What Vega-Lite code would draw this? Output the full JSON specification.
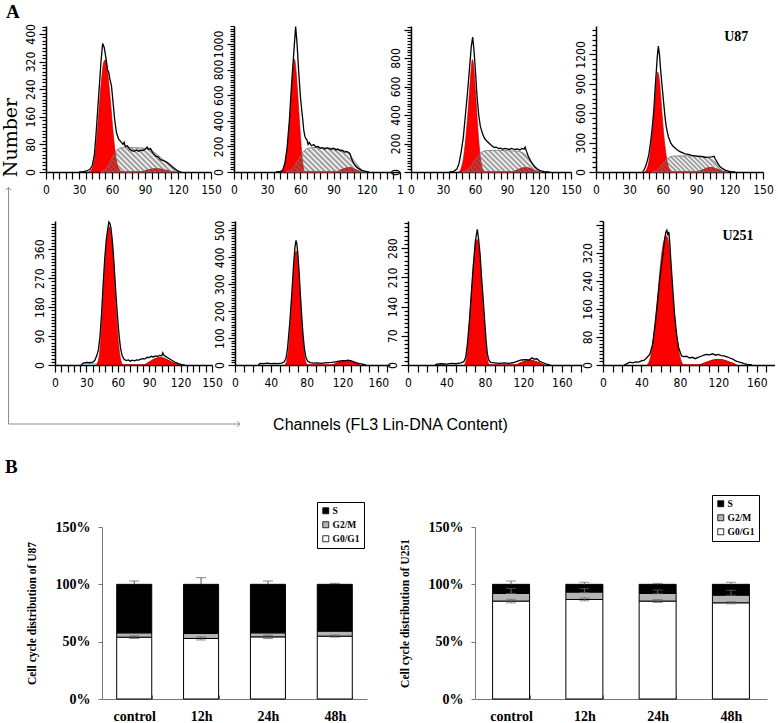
{
"$schema": "https://vega.github.io/schema/vega-lite/v6.json",
"padding": {"left": 1, "top": 2, "right": 0, "bottom": 0},
"background": "white",
"title": {"text": "A", "anchor": "start", "font": "Liberation Serif", "fontSize": 19, "fontWeight": "bold", "color": "black", "offset": 2, "dx": 5},
"datasets": {
"hist": [
{"p":"a1","s":"h","x":30,"y":0},{"p":"a1","s":"h","x":34,"y":1},{"p":"a1","s":"h","x":37,"y":3},{"p":"a1","s":"h","x":40,"y":8},{"p":"a1","s":"h","x":42,"y":18},{"p":"a1","s":"h","x":44,"y":50},{"p":"a1","s":"h","x":45.5,"y":110},{"p":"a1","s":"h","x":47,"y":180},{"p":"a1","s":"h","x":48.5,"y":250},{"p":"a1","s":"h","x":50,"y":320},{"p":"a1","s":"h","x":51.5,"y":372},{"p":"a1","s":"h","x":53,"y":360},{"p":"a1","s":"h","x":54.5,"y":330},{"p":"a1","s":"h","x":56,"y":295},{"p":"a1","s":"h","x":57,"y":290},{"p":"a1","s":"h","x":58,"y":270},{"p":"a1","s":"h","x":59.5,"y":250},{"p":"a1","s":"h","x":61,"y":200},{"p":"a1","s":"h","x":62.5,"y":150},{"p":"a1","s":"h","x":64,"y":115},{"p":"a1","s":"h","x":66,"y":95},{"p":"a1","s":"h","x":68,"y":88},{"p":"a1","s":"h","x":70,"y":80},{"p":"a1","s":"h","x":71,"y":86},{"p":"a1","s":"h","x":72,"y":74},{"p":"a1","s":"h","x":74,"y":76},{"p":"a1","s":"h","x":76,"y":66},{"p":"a1","s":"h","x":78,"y":62},{"p":"a1","s":"h","x":80,"y":60},{"p":"a1","s":"h","x":82,"y":64},{"p":"a1","s":"h","x":84,"y":60},{"p":"a1","s":"h","x":86,"y":63},{"p":"a1","s":"h","x":88,"y":62},{"p":"a1","s":"h","x":90,"y":66},{"p":"a1","s":"h","x":92,"y":72},{"p":"a1","s":"h","x":93,"y":66},{"p":"a1","s":"h","x":95,"y":68},{"p":"a1","s":"h","x":97,"y":56},{"p":"a1","s":"h","x":100,"y":46},{"p":"a1","s":"h","x":102,"y":44},{"p":"a1","s":"h","x":104,"y":36},{"p":"a1","s":"h","x":107,"y":33},{"p":"a1","s":"h","x":110,"y":28},{"p":"a1","s":"h","x":113,"y":20},{"p":"a1","s":"h","x":116,"y":12},{"p":"a1","s":"h","x":119,"y":5},{"p":"a1","s":"h","x":121,"y":1},{"p":"a1","s":"h","x":123,"y":0},
{"p":"a1","s":"g1","x":39,"y":0},{"p":"a1","s":"g1","x":41,"y":5},{"p":"a1","s":"g1","x":43,"y":20},{"p":"a1","s":"g1","x":45,"y":60},{"p":"a1","s":"g1","x":47,"y":130},{"p":"a1","s":"g1","x":49,"y":215},{"p":"a1","s":"g1","x":51,"y":285},{"p":"a1","s":"g1","x":52.5,"y":318},{"p":"a1","s":"g1","x":54,"y":325},{"p":"a1","s":"g1","x":55.5,"y":305},{"p":"a1","s":"g1","x":57,"y":260},{"p":"a1","s":"g1","x":59,"y":190},{"p":"a1","s":"g1","x":61,"y":115},{"p":"a1","s":"g1","x":63,"y":55},{"p":"a1","s":"g1","x":65,"y":20},{"p":"a1","s":"g1","x":67,"y":6},{"p":"a1","s":"g1","x":69,"y":0},
{"p":"a1","s":"sp","x":50,"y":0},{"p":"a1","s":"sp","x":53,"y":5},{"p":"a1","s":"sp","x":56,"y":15},{"p":"a1","s":"sp","x":59,"y":32},{"p":"a1","s":"sp","x":62,"y":52},{"p":"a1","s":"sp","x":65,"y":65},{"p":"a1","s":"sp","x":68,"y":70},{"p":"a1","s":"sp","x":75,"y":71},{"p":"a1","s":"sp","x":85,"y":70},{"p":"a1","s":"sp","x":92,"y":67},{"p":"a1","s":"sp","x":97,"y":60},{"p":"a1","s":"sp","x":102,"y":48},{"p":"a1","s":"sp","x":107,"y":34},{"p":"a1","s":"sp","x":112,"y":20},{"p":"a1","s":"sp","x":116,"y":9},{"p":"a1","s":"sp","x":120,"y":2},{"p":"a1","s":"sp","x":122,"y":0},
{"p":"a1","s":"g2","x":86,"y":0},{"p":"a1","s":"g2","x":90,"y":3},{"p":"a1","s":"g2","x":94,"y":7},{"p":"a1","s":"g2","x":98,"y":9},{"p":"a1","s":"g2","x":102,"y":9},{"p":"a1","s":"g2","x":106,"y":7},{"p":"a1","s":"g2","x":110,"y":4},{"p":"a1","s":"g2","x":114,"y":1},{"p":"a1","s":"g2","x":116,"y":0},

{"p":"a2","s":"h","x":38,"y":0},{"p":"a2","s":"h","x":42,"y":5},{"p":"a2","s":"h","x":44,"y":15},{"p":"a2","s":"h","x":46,"y":70},{"p":"a2","s":"h","x":48,"y":190},{"p":"a2","s":"h","x":50,"y":400},{"p":"a2","s":"h","x":52,"y":680},{"p":"a2","s":"h","x":54,"y":930},{"p":"a2","s":"h","x":55.7,"y":1135},{"p":"a2","s":"h","x":57,"y":1000},{"p":"a2","s":"h","x":58.5,"y":780},{"p":"a2","s":"h","x":60,"y":590},{"p":"a2","s":"h","x":61,"y":500},{"p":"a2","s":"h","x":62,"y":420},{"p":"a2","s":"h","x":63,"y":330},{"p":"a2","s":"h","x":64,"y":280},{"p":"a2","s":"h","x":65,"y":260},{"p":"a2","s":"h","x":66,"y":250},{"p":"a2","s":"h","x":67,"y":215},{"p":"a2","s":"h","x":68,"y":230},{"p":"a2","s":"h","x":70,"y":205},{"p":"a2","s":"h","x":72,"y":215},{"p":"a2","s":"h","x":74,"y":195},{"p":"a2","s":"h","x":76,"y":200},{"p":"a2","s":"h","x":78,"y":185},{"p":"a2","s":"h","x":80,"y":190},{"p":"a2","s":"h","x":82,"y":180},{"p":"a2","s":"h","x":84,"y":188},{"p":"a2","s":"h","x":86,"y":182},{"p":"a2","s":"h","x":88,"y":178},{"p":"a2","s":"h","x":90,"y":185},{"p":"a2","s":"h","x":92,"y":172},{"p":"a2","s":"h","x":94,"y":178},{"p":"a2","s":"h","x":96,"y":165},{"p":"a2","s":"h","x":98,"y":168},{"p":"a2","s":"h","x":100,"y":155},{"p":"a2","s":"h","x":102,"y":160},{"p":"a2","s":"h","x":104,"y":150},{"p":"a2","s":"h","x":105,"y":140},{"p":"a2","s":"h","x":106,"y":110},{"p":"a2","s":"h","x":108,"y":70},{"p":"a2","s":"h","x":110,"y":45},{"p":"a2","s":"h","x":112,"y":30},{"p":"a2","s":"h","x":115,"y":15},{"p":"a2","s":"h","x":118,"y":6},{"p":"a2","s":"h","x":122,"y":0},
{"p":"a2","s":"g1","x":43,"y":0},{"p":"a2","s":"g1","x":45,"y":30},{"p":"a2","s":"g1","x":47,"y":100},{"p":"a2","s":"g1","x":49,"y":260},{"p":"a2","s":"g1","x":51,"y":480},{"p":"a2","s":"g1","x":53,"y":760},{"p":"a2","s":"g1","x":54.6,"y":880},{"p":"a2","s":"g1","x":56,"y":800},{"p":"a2","s":"g1","x":57.5,"y":620},{"p":"a2","s":"g1","x":59,"y":420},{"p":"a2","s":"g1","x":60.5,"y":230},{"p":"a2","s":"g1","x":62,"y":80},{"p":"a2","s":"g1","x":63.5,"y":10},{"p":"a2","s":"g1","x":64.5,"y":0},
{"p":"a2","s":"sp","x":47,"y":0},{"p":"a2","s":"sp","x":50,"y":10},{"p":"a2","s":"sp","x":53,"y":30},{"p":"a2","s":"sp","x":56,"y":65},{"p":"a2","s":"sp","x":59,"y":110},{"p":"a2","s":"sp","x":62,"y":150},{"p":"a2","s":"sp","x":65,"y":178},{"p":"a2","s":"sp","x":68,"y":188},{"p":"a2","s":"sp","x":75,"y":192},{"p":"a2","s":"sp","x":85,"y":188},{"p":"a2","s":"sp","x":95,"y":178},{"p":"a2","s":"sp","x":100,"y":165},{"p":"a2","s":"sp","x":104,"y":140},{"p":"a2","s":"sp","x":108,"y":95},{"p":"a2","s":"sp","x":112,"y":50},{"p":"a2","s":"sp","x":115,"y":22},{"p":"a2","s":"sp","x":118,"y":5},{"p":"a2","s":"sp","x":120,"y":0},
{"p":"a2","s":"g2","x":92,"y":0},{"p":"a2","s":"g2","x":95,"y":8},{"p":"a2","s":"g2","x":98,"y":20},{"p":"a2","s":"g2","x":101,"y":30},{"p":"a2","s":"g2","x":104,"y":34},{"p":"a2","s":"g2","x":107,"y":30},{"p":"a2","s":"g2","x":110,"y":18},{"p":"a2","s":"g2","x":113,"y":6},{"p":"a2","s":"g2","x":115,"y":0},

{"p":"a3","s":"h","x":36,"y":0},{"p":"a3","s":"h","x":40,"y":5},{"p":"a3","s":"h","x":43,"y":20},{"p":"a3","s":"h","x":45,"y":60},{"p":"a3","s":"h","x":47,"y":140},{"p":"a3","s":"h","x":49,"y":240},{"p":"a3","s":"h","x":51,"y":400},{"p":"a3","s":"h","x":53,"y":560},{"p":"a3","s":"h","x":55,"y":740},{"p":"a3","s":"h","x":56.5,"y":880},{"p":"a3","s":"h","x":57.8,"y":947},{"p":"a3","s":"h","x":59,"y":860},{"p":"a3","s":"h","x":60.5,"y":700},{"p":"a3","s":"h","x":62,"y":520},{"p":"a3","s":"h","x":63.5,"y":400},{"p":"a3","s":"h","x":65,"y":320},{"p":"a3","s":"h","x":67,"y":270},{"p":"a3","s":"h","x":69,"y":235},{"p":"a3","s":"h","x":72,"y":210},{"p":"a3","s":"h","x":75,"y":190},{"p":"a3","s":"h","x":78,"y":172},{"p":"a3","s":"h","x":80,"y":175},{"p":"a3","s":"h","x":82,"y":165},{"p":"a3","s":"h","x":84,"y":168},{"p":"a3","s":"h","x":86,"y":160},{"p":"a3","s":"h","x":88,"y":165},{"p":"a3","s":"h","x":90,"y":162},{"p":"a3","s":"h","x":92,"y":158},{"p":"a3","s":"h","x":94,"y":165},{"p":"a3","s":"h","x":96,"y":160},{"p":"a3","s":"h","x":98,"y":158},{"p":"a3","s":"h","x":100,"y":162},{"p":"a3","s":"h","x":102,"y":155},{"p":"a3","s":"h","x":104,"y":165},{"p":"a3","s":"h","x":106,"y":160},{"p":"a3","s":"h","x":107,"y":175},{"p":"a3","s":"h","x":108,"y":150},{"p":"a3","s":"h","x":110,"y":110},{"p":"a3","s":"h","x":112,"y":80},{"p":"a3","s":"h","x":114,"y":55},{"p":"a3","s":"h","x":116,"y":35},{"p":"a3","s":"h","x":118,"y":22},{"p":"a3","s":"h","x":121,"y":10},{"p":"a3","s":"h","x":125,"y":3},{"p":"a3","s":"h","x":130,"y":0},
{"p":"a3","s":"g1","x":45,"y":0},{"p":"a3","s":"g1","x":47,"y":25},{"p":"a3","s":"g1","x":49,"y":90},{"p":"a3","s":"g1","x":51,"y":210},{"p":"a3","s":"g1","x":53,"y":380},{"p":"a3","s":"g1","x":55,"y":580},{"p":"a3","s":"g1","x":56.5,"y":730},{"p":"a3","s":"g1","x":57.5,"y":790},{"p":"a3","s":"g1","x":58.5,"y":760},{"p":"a3","s":"g1","x":60,"y":620},{"p":"a3","s":"g1","x":61.5,"y":440},{"p":"a3","s":"g1","x":63,"y":270},{"p":"a3","s":"g1","x":64.5,"y":140},{"p":"a3","s":"g1","x":66,"y":55},{"p":"a3","s":"g1","x":67.5,"y":15},{"p":"a3","s":"g1","x":69,"y":0},
{"p":"a3","s":"sp","x":48,"y":0},{"p":"a3","s":"sp","x":52,"y":10},{"p":"a3","s":"sp","x":55,"y":30},{"p":"a3","s":"sp","x":58,"y":60},{"p":"a3","s":"sp","x":61,"y":95},{"p":"a3","s":"sp","x":64,"y":125},{"p":"a3","s":"sp","x":67,"y":142},{"p":"a3","s":"sp","x":70,"y":150},{"p":"a3","s":"sp","x":80,"y":152},{"p":"a3","s":"sp","x":90,"y":150},{"p":"a3","s":"sp","x":100,"y":145},{"p":"a3","s":"sp","x":105,"y":135},{"p":"a3","s":"sp","x":109,"y":110},{"p":"a3","s":"sp","x":113,"y":70},{"p":"a3","s":"sp","x":117,"y":35},{"p":"a3","s":"sp","x":120,"y":12},{"p":"a3","s":"sp","x":123,"y":0},
{"p":"a3","s":"g2","x":95,"y":0},{"p":"a3","s":"g2","x":98,"y":8},{"p":"a3","s":"g2","x":101,"y":18},{"p":"a3","s":"g2","x":104,"y":26},{"p":"a3","s":"g2","x":107,"y":30},{"p":"a3","s":"g2","x":110,"y":28},{"p":"a3","s":"g2","x":113,"y":20},{"p":"a3","s":"g2","x":116,"y":10},{"p":"a3","s":"g2","x":119,"y":3},{"p":"a3","s":"g2","x":121,"y":0},

{"p":"a4","s":"h","x":42,"y":0},{"p":"a4","s":"h","x":44,"y":40},{"p":"a4","s":"h","x":46,"y":110},{"p":"a4","s":"h","x":47.5,"y":180},{"p":"a4","s":"h","x":49,"y":300},{"p":"a4","s":"h","x":50.5,"y":450},{"p":"a4","s":"h","x":52,"y":640},{"p":"a4","s":"h","x":53,"y":830},{"p":"a4","s":"h","x":54,"y":1000},{"p":"a4","s":"h","x":55,"y":1170},{"p":"a4","s":"h","x":56,"y":1285},{"p":"a4","s":"h","x":57,"y":1200},{"p":"a4","s":"h","x":58,"y":1050},{"p":"a4","s":"h","x":59,"y":920},{"p":"a4","s":"h","x":60,"y":800},{"p":"a4","s":"h","x":61,"y":680},{"p":"a4","s":"h","x":62,"y":560},{"p":"a4","s":"h","x":63,"y":470},{"p":"a4","s":"h","x":64,"y":410},{"p":"a4","s":"h","x":65,"y":360},{"p":"a4","s":"h","x":67,"y":300},{"p":"a4","s":"h","x":69,"y":265},{"p":"a4","s":"h","x":72,"y":235},{"p":"a4","s":"h","x":75,"y":210},{"p":"a4","s":"h","x":78,"y":195},{"p":"a4","s":"h","x":80,"y":185},{"p":"a4","s":"h","x":83,"y":180},{"p":"a4","s":"h","x":86,"y":170},{"p":"a4","s":"h","x":89,"y":165},{"p":"a4","s":"h","x":92,"y":160},{"p":"a4","s":"h","x":95,"y":158},{"p":"a4","s":"h","x":98,"y":150},{"p":"a4","s":"h","x":101,"y":152},{"p":"a4","s":"h","x":104,"y":155},{"p":"a4","s":"h","x":106,"y":160},{"p":"a4","s":"h","x":107,"y":135},{"p":"a4","s":"h","x":109,"y":95},{"p":"a4","s":"h","x":111,"y":60},{"p":"a4","s":"h","x":113,"y":40},{"p":"a4","s":"h","x":116,"y":20},{"p":"a4","s":"h","x":119,"y":8},{"p":"a4","s":"h","x":122,"y":2},{"p":"a4","s":"h","x":125,"y":0},
{"p":"a4","s":"g1","x":44,"y":0},{"p":"a4","s":"g1","x":46,"y":40},{"p":"a4","s":"g1","x":48,"y":140},{"p":"a4","s":"g1","x":50,"y":330},{"p":"a4","s":"g1","x":52,"y":580},{"p":"a4","s":"g1","x":53.5,"y":820},{"p":"a4","s":"g1","x":55.4,"y":1020},{"p":"a4","s":"g1","x":57,"y":930},{"p":"a4","s":"g1","x":58.5,"y":720},{"p":"a4","s":"g1","x":60,"y":500},{"p":"a4","s":"g1","x":61.5,"y":310},{"p":"a4","s":"g1","x":63,"y":170},{"p":"a4","s":"g1","x":64.5,"y":80},{"p":"a4","s":"g1","x":66,"y":30},{"p":"a4","s":"g1","x":68,"y":5},{"p":"a4","s":"g1","x":69,"y":0},
{"p":"a4","s":"sp","x":50,"y":0},{"p":"a4","s":"sp","x":54,"y":15},{"p":"a4","s":"sp","x":57,"y":45},{"p":"a4","s":"sp","x":60,"y":85},{"p":"a4","s":"sp","x":63,"y":125},{"p":"a4","s":"sp","x":66,"y":152},{"p":"a4","s":"sp","x":69,"y":162},{"p":"a4","s":"sp","x":80,"y":165},{"p":"a4","s":"sp","x":90,"y":162},{"p":"a4","s":"sp","x":98,"y":155},{"p":"a4","s":"sp","x":102,"y":140},{"p":"a4","s":"sp","x":106,"y":110},{"p":"a4","s":"sp","x":110,"y":65},{"p":"a4","s":"sp","x":113,"y":35},{"p":"a4","s":"sp","x":116,"y":12},{"p":"a4","s":"sp","x":118,"y":0},
{"p":"a4","s":"g2","x":90,"y":0},{"p":"a4","s":"g2","x":93,"y":8},{"p":"a4","s":"g2","x":96,"y":22},{"p":"a4","s":"g2","x":99,"y":36},{"p":"a4","s":"g2","x":102,"y":45},{"p":"a4","s":"g2","x":105,"y":42},{"p":"a4","s":"g2","x":108,"y":32},{"p":"a4","s":"g2","x":111,"y":18},{"p":"a4","s":"g2","x":114,"y":6},{"p":"a4","s":"g2","x":117,"y":0},
{"p":"a4","s":"txt","x":126,"y":1378,"lab":"U87"},

{"p":"b1","s":"h","x":25,"y":0},{"p":"b1","s":"h","x":27,"y":6},{"p":"b1","s":"h","x":30,"y":8},{"p":"b1","s":"h","x":33,"y":7},{"p":"b1","s":"h","x":36,"y":9},{"p":"b1","s":"h","x":38,"y":14},{"p":"b1","s":"h","x":40,"y":30},{"p":"b1","s":"h","x":41.5,"y":48},{"p":"b1","s":"h","x":43,"y":90},{"p":"b1","s":"h","x":44.5,"y":160},{"p":"b1","s":"h","x":46,"y":250},{"p":"b1","s":"h","x":47.5,"y":330},{"p":"b1","s":"h","x":49,"y":390},{"p":"b1","s":"h","x":50.5,"y":425},{"p":"b1","s":"h","x":51.5,"y":445},{"p":"b1","s":"h","x":52.5,"y":440},{"p":"b1","s":"h","x":53.5,"y":425},{"p":"b1","s":"h","x":55,"y":380},{"p":"b1","s":"h","x":56.5,"y":310},{"p":"b1","s":"h","x":58,"y":230},{"p":"b1","s":"h","x":59.5,"y":160},{"p":"b1","s":"h","x":61,"y":100},{"p":"b1","s":"h","x":62.5,"y":55},{"p":"b1","s":"h","x":64,"y":30},{"p":"b1","s":"h","x":66,"y":18},{"p":"b1","s":"h","x":68,"y":14},{"p":"b1","s":"h","x":70,"y":16},{"p":"b1","s":"h","x":72,"y":12},{"p":"b1","s":"h","x":74,"y":15},{"p":"b1","s":"h","x":76,"y":13},{"p":"b1","s":"h","x":78,"y":16},{"p":"b1","s":"h","x":80,"y":15},{"p":"b1","s":"h","x":82,"y":18},{"p":"b1","s":"h","x":84,"y":20},{"p":"b1","s":"h","x":86,"y":19},{"p":"b1","s":"h","x":88,"y":24},{"p":"b1","s":"h","x":90,"y":23},{"p":"b1","s":"h","x":92,"y":27},{"p":"b1","s":"h","x":94,"y":25},{"p":"b1","s":"h","x":96,"y":28},{"p":"b1","s":"h","x":98,"y":27},{"p":"b1","s":"h","x":100,"y":30},{"p":"b1","s":"h","x":102,"y":29},{"p":"b1","s":"h","x":103,"y":38},{"p":"b1","s":"h","x":104,"y":30},{"p":"b1","s":"h","x":106,"y":26},{"p":"b1","s":"h","x":108,"y":22},{"p":"b1","s":"h","x":110,"y":18},{"p":"b1","s":"h","x":112,"y":14},{"p":"b1","s":"h","x":115,"y":8},{"p":"b1","s":"h","x":118,"y":4},{"p":"b1","s":"h","x":121,"y":1},{"p":"b1","s":"h","x":124,"y":0},
{"p":"b1","s":"g1","x":39,"y":0},{"p":"b1","s":"g1","x":41,"y":10},{"p":"b1","s":"g1","x":43,"y":50},{"p":"b1","s":"g1","x":45,"y":150},{"p":"b1","s":"g1","x":47,"y":270},{"p":"b1","s":"g1","x":49,"y":370},{"p":"b1","s":"g1","x":50.5,"y":415},{"p":"b1","s":"g1","x":51.8,"y":430},{"p":"b1","s":"g1","x":53,"y":420},{"p":"b1","s":"g1","x":54.5,"y":380},{"p":"b1","s":"g1","x":56,"y":310},{"p":"b1","s":"g1","x":57.5,"y":220},{"p":"b1","s":"g1","x":59,"y":140},{"p":"b1","s":"g1","x":60.5,"y":75},{"p":"b1","s":"g1","x":62,"y":30},{"p":"b1","s":"g1","x":63.5,"y":8},{"p":"b1","s":"g1","x":65,"y":0},
{"p":"b1","s":"g2","x":85,"y":0},{"p":"b1","s":"g2","x":88,"y":5},{"p":"b1","s":"g2","x":91,"y":11},{"p":"b1","s":"g2","x":94,"y":17},{"p":"b1","s":"g2","x":97,"y":21},{"p":"b1","s":"g2","x":100,"y":23},{"p":"b1","s":"g2","x":103,"y":22},{"p":"b1","s":"g2","x":106,"y":18},{"p":"b1","s":"g2","x":109,"y":13},{"p":"b1","s":"g2","x":112,"y":8},{"p":"b1","s":"g2","x":115,"y":4},{"p":"b1","s":"g2","x":118,"y":1},{"p":"b1","s":"g2","x":120,"y":0},
{"p":"b1","s":"deb","x":25,"y":0},{"p":"b1","s":"deb","x":27,"y":5},{"p":"b1","s":"deb","x":30,"y":7},{"p":"b1","s":"deb","x":33,"y":7},{"p":"b1","s":"deb","x":36,"y":8},{"p":"b1","s":"deb","x":38,"y":6},{"p":"b1","s":"deb","x":40,"y":0},

{"p":"b2","s":"h","x":26,"y":0},{"p":"b2","s":"h","x":28,"y":6},{"p":"b2","s":"h","x":32,"y":5},{"p":"b2","s":"h","x":36,"y":7},{"p":"b2","s":"h","x":40,"y":5},{"p":"b2","s":"h","x":44,"y":6},{"p":"b2","s":"h","x":48,"y":5},{"p":"b2","s":"h","x":52,"y":7},{"p":"b2","s":"h","x":55,"y":12},{"p":"b2","s":"h","x":57,"y":25},{"p":"b2","s":"h","x":58.7,"y":64},{"p":"b2","s":"h","x":61,"y":151},{"p":"b2","s":"h","x":63.6,"y":275},{"p":"b2","s":"h","x":65.4,"y":374},{"p":"b2","s":"h","x":67,"y":440},{"p":"b2","s":"h","x":68.1,"y":463},{"p":"b2","s":"h","x":69,"y":450},{"p":"b2","s":"h","x":70,"y":420},{"p":"b2","s":"h","x":71.5,"y":350},{"p":"b2","s":"h","x":73,"y":260},{"p":"b2","s":"h","x":74.5,"y":180},{"p":"b2","s":"h","x":76,"y":110},{"p":"b2","s":"h","x":77.5,"y":60},{"p":"b2","s":"h","x":79,"y":30},{"p":"b2","s":"h","x":81,"y":15},{"p":"b2","s":"h","x":84,"y":9},{"p":"b2","s":"h","x":88,"y":7},{"p":"b2","s":"h","x":92,"y":8},{"p":"b2","s":"h","x":96,"y":6},{"p":"b2","s":"h","x":100,"y":8},{"p":"b2","s":"h","x":104,"y":9},{"p":"b2","s":"h","x":108,"y":10},{"p":"b2","s":"h","x":112,"y":12},{"p":"b2","s":"h","x":116,"y":14},{"p":"b2","s":"h","x":120,"y":16},{"p":"b2","s":"h","x":123,"y":15},{"p":"b2","s":"h","x":126,"y":18},{"p":"b2","s":"h","x":129,"y":16},{"p":"b2","s":"h","x":132,"y":13},{"p":"b2","s":"h","x":135,"y":9},{"p":"b2","s":"h","x":138,"y":6},{"p":"b2","s":"h","x":142,"y":3},{"p":"b2","s":"h","x":146,"y":0},
{"p":"b2","s":"g1","x":56,"y":0},{"p":"b2","s":"g1","x":58,"y":20},{"p":"b2","s":"g1","x":60,"y":70},{"p":"b2","s":"g1","x":62,"y":160},{"p":"b2","s":"g1","x":64,"y":270},{"p":"b2","s":"g1","x":66,"y":370},{"p":"b2","s":"g1","x":67.5,"y":420},{"p":"b2","s":"g1","x":68.5,"y":424},{"p":"b2","s":"g1","x":70,"y":390},{"p":"b2","s":"g1","x":71.5,"y":320},{"p":"b2","s":"g1","x":73,"y":230},{"p":"b2","s":"g1","x":74.5,"y":150},{"p":"b2","s":"g1","x":76,"y":85},{"p":"b2","s":"g1","x":77.5,"y":40},{"p":"b2","s":"g1","x":79,"y":12},{"p":"b2","s":"g1","x":81,"y":0},
{"p":"b2","s":"g2","x":108,"y":0},{"p":"b2","s":"g2","x":112,"y":5},{"p":"b2","s":"g2","x":116,"y":10},{"p":"b2","s":"g2","x":120,"y":14},{"p":"b2","s":"g2","x":124,"y":16},{"p":"b2","s":"g2","x":128,"y":15},{"p":"b2","s":"g2","x":132,"y":11},{"p":"b2","s":"g2","x":136,"y":5},{"p":"b2","s":"g2","x":139,"y":0},

{"p":"b3","s":"h","x":28,"y":0},{"p":"b3","s":"h","x":30,"y":2},{"p":"b3","s":"h","x":35,"y":3},{"p":"b3","s":"h","x":40,"y":2},{"p":"b3","s":"h","x":45,"y":4},{"p":"b3","s":"h","x":50,"y":3},{"p":"b3","s":"h","x":55,"y":5},{"p":"b3","s":"h","x":58,"y":8},{"p":"b3","s":"h","x":60,"y":18},{"p":"b3","s":"h","x":62,"y":55},{"p":"b3","s":"h","x":64,"y":110},{"p":"b3","s":"h","x":66,"y":175},{"p":"b3","s":"h","x":68,"y":240},{"p":"b3","s":"h","x":70,"y":295},{"p":"b3","s":"h","x":71,"y":310},{"p":"b3","s":"h","x":72.1,"y":325},{"p":"b3","s":"h","x":73.5,"y":300},{"p":"b3","s":"h","x":75,"y":265},{"p":"b3","s":"h","x":76.5,"y":210},{"p":"b3","s":"h","x":78,"y":165},{"p":"b3","s":"h","x":79.5,"y":115},{"p":"b3","s":"h","x":81,"y":65},{"p":"b3","s":"h","x":82.5,"y":28},{"p":"b3","s":"h","x":84,"y":12},{"p":"b3","s":"h","x":86,"y":6},{"p":"b3","s":"h","x":90,"y":5},{"p":"b3","s":"h","x":95,"y":4},{"p":"b3","s":"h","x":100,"y":5},{"p":"b3","s":"h","x":105,"y":4},{"p":"b3","s":"h","x":110,"y":6},{"p":"b3","s":"h","x":114,"y":9},{"p":"b3","s":"h","x":118,"y":12},{"p":"b3","s":"h","x":122,"y":13},{"p":"b3","s":"h","x":126,"y":12},{"p":"b3","s":"h","x":129,"y":17},{"p":"b3","s":"h","x":131,"y":14},{"p":"b3","s":"h","x":134,"y":15},{"p":"b3","s":"h","x":137,"y":9},{"p":"b3","s":"h","x":140,"y":6},{"p":"b3","s":"h","x":144,"y":2},{"p":"b3","s":"h","x":148,"y":0},
{"p":"b3","s":"g1","x":59,"y":0},{"p":"b3","s":"g1","x":61,"y":20},{"p":"b3","s":"g1","x":63,"y":70},{"p":"b3","s":"g1","x":65,"y":140},{"p":"b3","s":"g1","x":67,"y":210},{"p":"b3","s":"g1","x":69,"y":265},{"p":"b3","s":"g1","x":71,"y":298},{"p":"b3","s":"g1","x":72,"y":301},{"p":"b3","s":"g1","x":73.5,"y":285},{"p":"b3","s":"g1","x":75,"y":245},{"p":"b3","s":"g1","x":76.5,"y":190},{"p":"b3","s":"g1","x":78,"y":140},{"p":"b3","s":"g1","x":79.5,"y":90},{"p":"b3","s":"g1","x":81,"y":45},{"p":"b3","s":"g1","x":82.5,"y":15},{"p":"b3","s":"g1","x":84,"y":3},{"p":"b3","s":"g1","x":85,"y":0},
{"p":"b3","s":"g2","x":112,"y":0},{"p":"b3","s":"g2","x":116,"y":4},{"p":"b3","s":"g2","x":120,"y":8},{"p":"b3","s":"g2","x":124,"y":10},{"p":"b3","s":"g2","x":128,"y":11},{"p":"b3","s":"g2","x":132,"y":9},{"p":"b3","s":"g2","x":136,"y":6},{"p":"b3","s":"g2","x":140,"y":2},{"p":"b3","s":"g2","x":142,"y":0},

{"p":"b4","s":"h","x":22,"y":0},{"p":"b4","s":"h","x":25,"y":4},{"p":"b4","s":"h","x":28,"y":8},{"p":"b4","s":"h","x":31,"y":6},{"p":"b4","s":"h","x":34,"y":9},{"p":"b4","s":"h","x":37,"y":8},{"p":"b4","s":"h","x":40,"y":12},{"p":"b4","s":"h","x":43,"y":14},{"p":"b4","s":"h","x":46,"y":22},{"p":"b4","s":"h","x":48.8,"y":31},{"p":"b4","s":"h","x":51.6,"y":59},{"p":"b4","s":"h","x":54.4,"y":116},{"p":"b4","s":"h","x":56.8,"y":183},{"p":"b4","s":"h","x":59.2,"y":249},{"p":"b4","s":"h","x":62,"y":307},{"p":"b4","s":"h","x":64.4,"y":364},{"p":"b4","s":"h","x":65.5,"y":380},{"p":"b4","s":"h","x":66.5,"y":385},{"p":"b4","s":"h","x":67.5,"y":370},{"p":"b4","s":"h","x":68.5,"y":380},{"p":"b4","s":"h","x":69.5,"y":350},{"p":"b4","s":"h","x":70.4,"y":307},{"p":"b4","s":"h","x":72.5,"y":221},{"p":"b4","s":"h","x":74.5,"y":145},{"p":"b4","s":"h","x":76.6,"y":88},{"p":"b4","s":"h","x":78.7,"y":49},{"p":"b4","s":"h","x":81.8,"y":26},{"p":"b4","s":"h","x":84,"y":24},{"p":"b4","s":"h","x":87,"y":25},{"p":"b4","s":"h","x":90,"y":20},{"p":"b4","s":"h","x":93,"y":22},{"p":"b4","s":"h","x":96,"y":18},{"p":"b4","s":"h","x":99,"y":22},{"p":"b4","s":"h","x":102,"y":25},{"p":"b4","s":"h","x":105,"y":28},{"p":"b4","s":"h","x":108,"y":30},{"p":"b4","s":"h","x":111,"y":29},{"p":"b4","s":"h","x":114,"y":32},{"p":"b4","s":"h","x":117,"y":28},{"p":"b4","s":"h","x":120,"y":30},{"p":"b4","s":"h","x":123,"y":27},{"p":"b4","s":"h","x":126,"y":26},{"p":"b4","s":"h","x":129,"y":23},{"p":"b4","s":"h","x":132,"y":20},{"p":"b4","s":"h","x":135,"y":17},{"p":"b4","s":"h","x":138,"y":12},{"p":"b4","s":"h","x":141,"y":9},{"p":"b4","s":"h","x":144,"y":7},{"p":"b4","s":"h","x":147,"y":4},{"p":"b4","s":"h","x":150,"y":2},{"p":"b4","s":"h","x":155,"y":0},
{"p":"b4","s":"g1","x":46,"y":0},{"p":"b4","s":"g1","x":48,"y":10},{"p":"b4","s":"g1","x":50,"y":30},{"p":"b4","s":"g1","x":52,"y":70},{"p":"b4","s":"g1","x":54,"y":120},{"p":"b4","s":"g1","x":56,"y":170},{"p":"b4","s":"g1","x":58,"y":230},{"p":"b4","s":"g1","x":60,"y":290},{"p":"b4","s":"g1","x":62,"y":335},{"p":"b4","s":"g1","x":64,"y":360},{"p":"b4","s":"g1","x":66,"y":368},{"p":"b4","s":"g1","x":68,"y":355},{"p":"b4","s":"g1","x":70,"y":300},{"p":"b4","s":"g1","x":72,"y":220},{"p":"b4","s":"g1","x":74,"y":150},{"p":"b4","s":"g1","x":76,"y":95},{"p":"b4","s":"g1","x":78,"y":55},{"p":"b4","s":"g1","x":80,"y":25},{"p":"b4","s":"g1","x":82,"y":8},{"p":"b4","s":"g1","x":84,"y":0},
{"p":"b4","s":"g2","x":100,"y":0},{"p":"b4","s":"g2","x":104,"y":4},{"p":"b4","s":"g2","x":108,"y":8},{"p":"b4","s":"g2","x":112,"y":12},{"p":"b4","s":"g2","x":116,"y":15},{"p":"b4","s":"g2","x":120,"y":16},{"p":"b4","s":"g2","x":124,"y":15},{"p":"b4","s":"g2","x":128,"y":12},{"p":"b4","s":"g2","x":132,"y":8},{"p":"b4","s":"g2","x":136,"y":4},{"p":"b4","s":"g2","x":139,"y":0},
{"p":"b4","s":"txt","x":140.5,"y":368,"lab":"U251"}
],
"arrows": [
{"p":"b1","k":"v","x":-44.4,"y":-183.6,"y2":552},
{"p":"b1","k":"h","x":-44.4,"x2":176.7,"y":-183.6},
{"p":"b1","k":"tv","x":-44.4,"y":552},
{"p":"b1","k":"th","x":176.7,"y":-183.6}
],
"bars": [
{"g":"U87","t":"control","phase":"G0/G1","v":0.539},{"g":"U87","t":"control","phase":"G2/M","v":0.038},{"g":"U87","t":"control","phase":"S","v":0.423},
{"g":"U87","t":"12h","phase":"G0/G1","v":0.528},{"g":"U87","t":"12h","phase":"G2/M","v":0.043},{"g":"U87","t":"12h","phase":"S","v":0.429},
{"g":"U87","t":"24h","phase":"G0/G1","v":0.542},{"g":"U87","t":"24h","phase":"G2/M","v":0.035},{"g":"U87","t":"24h","phase":"S","v":0.423},
{"g":"U87","t":"48h","phase":"G0/G1","v":0.548},{"g":"U87","t":"48h","phase":"G2/M","v":0.044},{"g":"U87","t":"48h","phase":"S","v":0.408},
{"g":"U251","t":"control","phase":"G0/G1","v":0.854},{"g":"U251","t":"control","phase":"G2/M","v":0.067},{"g":"U251","t":"control","phase":"S","v":0.079},
{"g":"U251","t":"12h","phase":"G0/G1","v":0.868},{"g":"U251","t":"12h","phase":"G2/M","v":0.065},{"g":"U251","t":"12h","phase":"S","v":0.067},
{"g":"U251","t":"24h","phase":"G0/G1","v":0.854},{"g":"U251","t":"24h","phase":"G2/M","v":0.067},{"g":"U251","t":"24h","phase":"S","v":0.079},
{"g":"U251","t":"48h","phase":"G0/G1","v":0.839},{"g":"U251","t":"48h","phase":"G2/M","v":0.067},{"g":"U251","t":"48h","phase":"S","v":0.094}
],
"errs": [
{"g":"U87","t":"control","k":"top","lo":1,"hi":1.029},{"g":"U87","t":"12h","k":"top","lo":1,"hi":1.058},{"g":"U87","t":"24h","k":"top","lo":1,"hi":1.029},{"g":"U87","t":"48h","k":"top","lo":1,"hi":1.009},
{"g":"U87","t":"control","k":"mid","lo":0.528,"hi":0.55},{"g":"U87","t":"12h","k":"mid","lo":0.515,"hi":0.541},{"g":"U87","t":"24h","k":"mid","lo":0.527,"hi":0.556},{"g":"U87","t":"48h","k":"mid","lo":0.54,"hi":0.557},
{"g":"U251","t":"control","k":"top","lo":1,"hi":1.029},{"g":"U251","t":"12h","k":"top","lo":1,"hi":1.018},{"g":"U251","t":"24h","k":"top","lo":1,"hi":1.009},{"g":"U251","t":"48h","k":"top","lo":1,"hi":1.018},
{"g":"U251","t":"control","k":"mid","lo":0.838,"hi":0.87},{"g":"U251","t":"12h","k":"mid","lo":0.857,"hi":0.881},{"g":"U251","t":"24h","k":"mid","lo":0.842,"hi":0.867},{"g":"U251","t":"48h","k":"mid","lo":0.83,"hi":0.848},
{"g":"U251","t":"control","k":"mid","lo":0.92,"hi":0.965},{"g":"U251","t":"12h","k":"mid","lo":0.928,"hi":0.962},{"g":"U251","t":"24h","k":"mid","lo":0.918,"hi":0.95},{"g":"U251","t":"48h","k":"mid","lo":0.905,"hi":0.948}
]
},
"vconcat": [
{"vconcat": [
 {"hconcat": [
  {"width": 165, "height": 146, "data": {"name": "hist"}, "transform": [{"filter": "datum.p == 'a1'"}],
   "encoding": {
    "x": {"field": "x", "type": "quantitative", "scale": {"domain": [0, 150], "nice": false, "zero": false}, "axis": {"title": null, "values": [0,6,12,18,24,30,36,42,48,54,60,66,72,78,84,90,96,102,108,114,120,126,132,138,144,150], "labelExpr": "datum.value % 30 == 0 ? datum.label : ''"}},
    "y": {"field": "y", "type": "quantitative", "scale": {"domain": [0, 423], "nice": false}, "axis": {"title": "Number", "titleX": -36, "titleY": 111, "titleFont": "DejaVu Serif", "titleFontSize": 19, "titleFontWeight": "normal", "titleAngle": 270, "titleAlign": "center", "titleBaseline": "middle", "tickCount": 42, "labelExpr": "datum.value % 80 == 0 ? datum.label : ''", "tickSize": {"condition": {"test": "datum.value % 80 == 0", "value": 7}, "value": 4}}}
   },
   "layer": [
    {"transform": [{"filter": "datum.s == 'g1' || datum.s == 'g2'"}], "mark": {"type": "area", "fill": "#ff0000", "interpolate": "monotone", "stroke": "#b00000", "strokeWidth": 0.6}, "encoding": {"detail": {"field": "s"}}},
    {"transform": [{"filter": "datum.s == 'sp'"}], "mark": {"type": "area", "interpolate": "monotone", "stroke": "#777777", "strokeWidth": 0.8, "fillOpacity": 1,
      "fill": {"gradient": "linear", "x1": 0, "y1": 1, "x2": 1.195, "y2": 0.631, "stops": [{"offset":0,"color":"rgba(110,110,110,0)"},{"offset":0.025,"color":"rgba(110,110,110,0.8)"},{"offset":0.05,"color":"rgba(110,110,110,0)"},{"offset":0.075,"color":"rgba(110,110,110,0.8)"},{"offset":0.1,"color":"rgba(110,110,110,0)"},{"offset":0.125,"color":"rgba(110,110,110,0.8)"},{"offset":0.15,"color":"rgba(110,110,110,0)"},{"offset":0.175,"color":"rgba(110,110,110,0.8)"},{"offset":0.2,"color":"rgba(110,110,110,0)"},{"offset":0.225,"color":"rgba(110,110,110,0.8)"},{"offset":0.25,"color":"rgba(110,110,110,0)"},{"offset":0.275,"color":"rgba(110,110,110,0.8)"},{"offset":0.3,"color":"rgba(110,110,110,0)"},{"offset":0.325,"color":"rgba(110,110,110,0.8)"},{"offset":0.35,"color":"rgba(110,110,110,0)"},{"offset":0.375,"color":"rgba(110,110,110,0.8)"},{"offset":0.4,"color":"rgba(110,110,110,0)"},{"offset":0.425,"color":"rgba(110,110,110,0.8)"},{"offset":0.45,"color":"rgba(110,110,110,0)"},{"offset":0.475,"color":"rgba(110,110,110,0.8)"},{"offset":0.5,"color":"rgba(110,110,110,0)"},{"offset":0.525,"color":"rgba(110,110,110,0.8)"},{"offset":0.55,"color":"rgba(110,110,110,0)"},{"offset":0.575,"color":"rgba(110,110,110,0.8)"},{"offset":0.6,"color":"rgba(110,110,110,0)"},{"offset":0.625,"color":"rgba(110,110,110,0.8)"},{"offset":0.65,"color":"rgba(110,110,110,0)"},{"offset":0.675,"color":"rgba(110,110,110,0.8)"},{"offset":0.7,"color":"rgba(110,110,110,0)"},{"offset":0.725,"color":"rgba(110,110,110,0.8)"},{"offset":0.75,"color":"rgba(110,110,110,0)"},{"offset":0.775,"color":"rgba(110,110,110,0.8)"},{"offset":0.8,"color":"rgba(110,110,110,0)"},{"offset":0.825,"color":"rgba(110,110,110,0.8)"},{"offset":0.85,"color":"rgba(110,110,110,0)"},{"offset":0.875,"color":"rgba(110,110,110,0.8)"},{"offset":0.9,"color":"rgba(110,110,110,0)"},{"offset":0.925,"color":"rgba(110,110,110,0.8)"},{"offset":0.95,"color":"rgba(110,110,110,0)"},{"offset":0.975,"color":"rgba(110,110,110,0.8)"},{"offset":1,"color":"rgba(110,110,110,0)"}]}}, "encoding": {}},
    {"transform": [{"filter": "datum.s == 'h'"}], "mark": {"type": "line", "color": "black", "strokeWidth": 1.3}, "encoding": {}}
   ]},
  {"width": 23, "height": 146, "data": {"values": []}, "mark": "point"},
  {"width": 166, "height": 146, "data": {"name": "hist"}, "transform": [{"filter": "datum.p == 'a2'"}],
   "encoding": {
    "x": {"field": "x", "type": "quantitative", "scale": {"domain": [0, 150], "nice": false, "zero": false}, "axis": {"title": null, "values": [0,6,12,18,24,30,36,42,48,54,60,66,72,78,84,90,96,102,108,114,120,126,132,138,144,150], "labelExpr": "datum.value == 150 ? '1' : (datum.value % 30 == 0 ? datum.label : '')"}},
    "y": {"field": "y", "type": "quantitative", "scale": {"domain": [0, 1140], "nice": false}, "axis": {"title": null, "tickCount": 57, "labelExpr": "datum.value % 200 == 0 ? datum.label : ''", "tickSize": {"condition": {"test": "datum.value % 200 == 0", "value": 7}, "value": 4}}}
   },
   "layer": [
    {"transform": [{"filter": "datum.s == 'g1' || datum.s == 'g2'"}], "mark": {"type": "area", "fill": "#ff0000", "interpolate": "monotone", "stroke": "#b00000", "strokeWidth": 0.6}, "encoding": {"detail": {"field": "s"}}},
    {"transform": [{"filter": "datum.s == 'sp'"}], "mark": {"type": "area", "interpolate": "monotone", "stroke": "#777777", "strokeWidth": 0.8, "fillOpacity": 1,
      "fill": {"gradient": "linear", "x1": 0, "y1": 1, "x2": 1.194, "y2": 0.637, "stops": [{"offset":0,"color":"rgba(110,110,110,0)"},{"offset":0.025,"color":"rgba(110,110,110,0.8)"},{"offset":0.05,"color":"rgba(110,110,110,0)"},{"offset":0.075,"color":"rgba(110,110,110,0.8)"},{"offset":0.1,"color":"rgba(110,110,110,0)"},{"offset":0.125,"color":"rgba(110,110,110,0.8)"},{"offset":0.15,"color":"rgba(110,110,110,0)"},{"offset":0.175,"color":"rgba(110,110,110,0.8)"},{"offset":0.2,"color":"rgba(110,110,110,0)"},{"offset":0.225,"color":"rgba(110,110,110,0.8)"},{"offset":0.25,"color":"rgba(110,110,110,0)"},{"offset":0.275,"color":"rgba(110,110,110,0.8)"},{"offset":0.3,"color":"rgba(110,110,110,0)"},{"offset":0.325,"color":"rgba(110,110,110,0.8)"},{"offset":0.35,"color":"rgba(110,110,110,0)"},{"offset":0.375,"color":"rgba(110,110,110,0.8)"},{"offset":0.4,"color":"rgba(110,110,110,0)"},{"offset":0.425,"color":"rgba(110,110,110,0.8)"},{"offset":0.45,"color":"rgba(110,110,110,0)"},{"offset":0.475,"color":"rgba(110,110,110,0.8)"},{"offset":0.5,"color":"rgba(110,110,110,0)"},{"offset":0.525,"color":"rgba(110,110,110,0.8)"},{"offset":0.55,"color":"rgba(110,110,110,0)"},{"offset":0.575,"color":"rgba(110,110,110,0.8)"},{"offset":0.6,"color":"rgba(110,110,110,0)"},{"offset":0.625,"color":"rgba(110,110,110,0.8)"},{"offset":0.65,"color":"rgba(110,110,110,0)"},{"offset":0.675,"color":"rgba(110,110,110,0.8)"},{"offset":0.7,"color":"rgba(110,110,110,0)"},{"offset":0.725,"color":"rgba(110,110,110,0.8)"},{"offset":0.75,"color":"rgba(110,110,110,0)"},{"offset":0.775,"color":"rgba(110,110,110,0.8)"},{"offset":0.8,"color":"rgba(110,110,110,0)"},{"offset":0.825,"color":"rgba(110,110,110,0.8)"},{"offset":0.85,"color":"rgba(110,110,110,0)"},{"offset":0.875,"color":"rgba(110,110,110,0.8)"},{"offset":0.9,"color":"rgba(110,110,110,0)"},{"offset":0.925,"color":"rgba(110,110,110,0.8)"},{"offset":0.95,"color":"rgba(110,110,110,0)"},{"offset":0.975,"color":"rgba(110,110,110,0.8)"},{"offset":1,"color":"rgba(110,110,110,0)"}]}}, "encoding": {}},
    {"transform": [{"filter": "datum.s == 'h'"}], "mark": {"type": "line", "color": "black", "strokeWidth": 1.3}, "encoding": {}}
   ]},
  {"width": 11, "height": 146, "data": {"values": []}, "mark": "point"},
  {"width": 160, "height": 146, "data": {"name": "hist"}, "transform": [{"filter": "datum.p == 'a3'"}],
   "encoding": {
    "x": {"field": "x", "type": "quantitative", "scale": {"domain": [0, 150], "nice": false, "zero": false}, "axis": {"title": null, "values": [0,6,12,18,24,30,36,42,48,54,60,66,72,78,84,90,96,102,108,114,120,126,132,138,144,150], "labelExpr": "datum.value % 30 == 0 ? datum.label : ''"}},
    "y": {"field": "y", "type": "quantitative", "scale": {"domain": [0, 1025], "nice": false}, "axis": {"title": null, "tickCount": 51, "labelExpr": "datum.value % 200 == 0 && datum.value < 1000 ? datum.label : ''", "tickSize": {"condition": {"test": "datum.value % 200 == 0", "value": 7}, "value": 4}}}
   },
   "layer": [
    {"transform": [{"filter": "datum.s == 'g1' || datum.s == 'g2'"}], "mark": {"type": "area", "fill": "#ff0000", "interpolate": "monotone", "stroke": "#b00000", "strokeWidth": 0.6}, "encoding": {"detail": {"field": "s"}}},
    {"transform": [{"filter": "datum.s == 'sp'"}], "mark": {"type": "area", "interpolate": "monotone", "stroke": "#777777", "strokeWidth": 0.8, "fillOpacity": 1,
      "fill": {"gradient": "linear", "x1": 0, "y1": 1, "x2": 1.184, "y2": 0.679, "stops": [{"offset":0,"color":"rgba(110,110,110,0)"},{"offset":0.025,"color":"rgba(110,110,110,0.8)"},{"offset":0.05,"color":"rgba(110,110,110,0)"},{"offset":0.075,"color":"rgba(110,110,110,0.8)"},{"offset":0.1,"color":"rgba(110,110,110,0)"},{"offset":0.125,"color":"rgba(110,110,110,0.8)"},{"offset":0.15,"color":"rgba(110,110,110,0)"},{"offset":0.175,"color":"rgba(110,110,110,0.8)"},{"offset":0.2,"color":"rgba(110,110,110,0)"},{"offset":0.225,"color":"rgba(110,110,110,0.8)"},{"offset":0.25,"color":"rgba(110,110,110,0)"},{"offset":0.275,"color":"rgba(110,110,110,0.8)"},{"offset":0.3,"color":"rgba(110,110,110,0)"},{"offset":0.325,"color":"rgba(110,110,110,0.8)"},{"offset":0.35,"color":"rgba(110,110,110,0)"},{"offset":0.375,"color":"rgba(110,110,110,0.8)"},{"offset":0.4,"color":"rgba(110,110,110,0)"},{"offset":0.425,"color":"rgba(110,110,110,0.8)"},{"offset":0.45,"color":"rgba(110,110,110,0)"},{"offset":0.475,"color":"rgba(110,110,110,0.8)"},{"offset":0.5,"color":"rgba(110,110,110,0)"},{"offset":0.525,"color":"rgba(110,110,110,0.8)"},{"offset":0.55,"color":"rgba(110,110,110,0)"},{"offset":0.575,"color":"rgba(110,110,110,0.8)"},{"offset":0.6,"color":"rgba(110,110,110,0)"},{"offset":0.625,"color":"rgba(110,110,110,0.8)"},{"offset":0.65,"color":"rgba(110,110,110,0)"},{"offset":0.675,"color":"rgba(110,110,110,0.8)"},{"offset":0.7,"color":"rgba(110,110,110,0)"},{"offset":0.725,"color":"rgba(110,110,110,0.8)"},{"offset":0.75,"color":"rgba(110,110,110,0)"},{"offset":0.775,"color":"rgba(110,110,110,0.8)"},{"offset":0.8,"color":"rgba(110,110,110,0)"},{"offset":0.825,"color":"rgba(110,110,110,0.8)"},{"offset":0.85,"color":"rgba(110,110,110,0)"},{"offset":0.875,"color":"rgba(110,110,110,0.8)"},{"offset":0.9,"color":"rgba(110,110,110,0)"},{"offset":0.925,"color":"rgba(110,110,110,0.8)"},{"offset":0.95,"color":"rgba(110,110,110,0)"},{"offset":0.975,"color":"rgba(110,110,110,0.8)"},{"offset":1,"color":"rgba(110,110,110,0)"}]}}, "encoding": {}},
    {"transform": [{"filter": "datum.s == 'h'"}], "mark": {"type": "line", "color": "black", "strokeWidth": 1.3}, "encoding": {}}
   ]},
  {"width": 25, "height": 146, "data": {"values": []}, "mark": "point"},
  {"width": 167, "height": 146, "data": {"name": "hist"}, "transform": [{"filter": "datum.p == 'a4'"}],
   "encoding": {
    "x": {"field": "x", "type": "quantitative", "scale": {"domain": [0, 150], "nice": false, "zero": false}, "axis": {"title": null, "values": [0,6,12,18,24,30,36,42,48,54,60,66,72,78,84,90,96,102,108,114,120,126,132,138,144,150], "labelExpr": "datum.value % 30 == 0 ? datum.label : ''"}},
    "y": {"field": "y", "type": "quantitative", "scale": {"domain": [0, 1490], "nice": false}, "axis": {"title": null, "tickCount": 30, "labelExpr": "datum.value % 300 == 0 ? datum.label : ''", "tickSize": {"condition": {"test": "datum.value % 300 == 0", "value": 7}, "value": 4}}}
   },
   "layer": [
    {"transform": [{"filter": "datum.s == 'g1' || datum.s == 'g2'"}], "mark": {"type": "area", "fill": "#ff0000", "interpolate": "monotone", "stroke": "#b00000", "strokeWidth": 0.6}, "encoding": {"detail": {"field": "s"}}},
    {"transform": [{"filter": "datum.s == 'sp'"}], "mark": {"type": "area", "interpolate": "monotone", "stroke": "#777777", "strokeWidth": 0.8, "fillOpacity": 1,
      "fill": {"gradient": "linear", "x1": 0, "y1": 1, "x2": 1.161, "y2": 0.751, "stops": [{"offset":0,"color":"rgba(110,110,110,0)"},{"offset":0.025,"color":"rgba(110,110,110,0.8)"},{"offset":0.05,"color":"rgba(110,110,110,0)"},{"offset":0.075,"color":"rgba(110,110,110,0.8)"},{"offset":0.1,"color":"rgba(110,110,110,0)"},{"offset":0.125,"color":"rgba(110,110,110,0.8)"},{"offset":0.15,"color":"rgba(110,110,110,0)"},{"offset":0.175,"color":"rgba(110,110,110,0.8)"},{"offset":0.2,"color":"rgba(110,110,110,0)"},{"offset":0.225,"color":"rgba(110,110,110,0.8)"},{"offset":0.25,"color":"rgba(110,110,110,0)"},{"offset":0.275,"color":"rgba(110,110,110,0.8)"},{"offset":0.3,"color":"rgba(110,110,110,0)"},{"offset":0.325,"color":"rgba(110,110,110,0.8)"},{"offset":0.35,"color":"rgba(110,110,110,0)"},{"offset":0.375,"color":"rgba(110,110,110,0.8)"},{"offset":0.4,"color":"rgba(110,110,110,0)"},{"offset":0.425,"color":"rgba(110,110,110,0.8)"},{"offset":0.45,"color":"rgba(110,110,110,0)"},{"offset":0.475,"color":"rgba(110,110,110,0.8)"},{"offset":0.5,"color":"rgba(110,110,110,0)"},{"offset":0.525,"color":"rgba(110,110,110,0.8)"},{"offset":0.55,"color":"rgba(110,110,110,0)"},{"offset":0.575,"color":"rgba(110,110,110,0.8)"},{"offset":0.6,"color":"rgba(110,110,110,0)"},{"offset":0.625,"color":"rgba(110,110,110,0.8)"},{"offset":0.65,"color":"rgba(110,110,110,0)"},{"offset":0.675,"color":"rgba(110,110,110,0.8)"},{"offset":0.7,"color":"rgba(110,110,110,0)"},{"offset":0.725,"color":"rgba(110,110,110,0.8)"},{"offset":0.75,"color":"rgba(110,110,110,0)"},{"offset":0.775,"color":"rgba(110,110,110,0.8)"},{"offset":0.8,"color":"rgba(110,110,110,0)"},{"offset":0.825,"color":"rgba(110,110,110,0.8)"},{"offset":0.85,"color":"rgba(110,110,110,0)"},{"offset":0.875,"color":"rgba(110,110,110,0.8)"},{"offset":0.9,"color":"rgba(110,110,110,0)"},{"offset":0.925,"color":"rgba(110,110,110,0.8)"},{"offset":0.95,"color":"rgba(110,110,110,0)"},{"offset":0.975,"color":"rgba(110,110,110,0.8)"},{"offset":1,"color":"rgba(110,110,110,0)"}]}}, "encoding": {}},
    {"transform": [{"filter": "datum.s == 'h'"}], "mark": {"type": "line", "color": "black", "strokeWidth": 1.3}, "encoding": {}},
    {"transform": [{"filter": "datum.s == 'txt'"}], "mark": {"type": "text", "font": "Liberation Serif", "fontSize": 14, "fontWeight": "bold", "color": "black", "align": "center", "baseline": "middle"}, "encoding": {"text": {"field": "lab"}}}
   ]}
 ], "spacing": 0, "bounds": "flush"},
 {"hconcat": [
  {"width": 9, "height": 144, "data": {"values": []}, "mark": "point"},
  {"width": 157, "height": 144, "data": {"name": "hist"}, "transform": [{"filter": "datum.p == 'b1'"}],
   "encoding": {
    "x": {"field": "x", "type": "quantitative", "scale": {"domain": [0, 150], "nice": false, "zero": false}, "axis": {"title": null, "values": [0,6,12,18,24,30,36,42,48,54,60,66,72,78,84,90,96,102,108,114,120,126,132,138,144,150], "labelExpr": "datum.value % 30 == 0 ? datum.label : ''"}},
    "y": {"field": "y", "type": "quantitative", "scale": {"domain": [0, 448], "nice": false}, "axis": {"title": null, "tickCount": 45, "labelExpr": "datum.value % 90 == 0 ? datum.label : ''", "tickSize": {"condition": {"test": "datum.value % 90 == 0", "value": 7}, "value": 4}}}
   },
   "layer": [
    {"transform": [{"filter": "datum.s == 'deb'"}], "mark": {"type": "area", "fill": "#7fc4d4", "interpolate": "monotone"}, "encoding": {}},
    {"transform": [{"filter": "datum.s == 'g1' || datum.s == 'g2'"}], "mark": {"type": "area", "fill": "#ff0000", "interpolate": "monotone", "stroke": "#b00000", "strokeWidth": 0.6}, "encoding": {"detail": {"field": "s"}}},
    {"transform": [{"filter": "datum.s == 'h'"}], "mark": {"type": "line", "color": "black", "strokeWidth": 1.3}, "encoding": {}},
    {"data": {"name": "arrows"}, "transform": [{"filter": "datum.k == 'v'"}], "mark": {"type": "rule", "color": "#8c8c8c", "strokeWidth": 1}, "encoding": {"y2": {"field": "y2"}}},
    {"data": {"name": "arrows"}, "transform": [{"filter": "datum.k == 'h'"}], "mark": {"type": "rule", "color": "#8c8c8c", "strokeWidth": 1}, "encoding": {"x2": {"field": "x2"}}},
    {"data": {"name": "arrows"}, "transform": [{"filter": "datum.k == 'tv'"}], "mark": {"type": "point", "shape": "M-1,1L0,0L1,1", "size": 30, "filled": false, "color": "#8c8c8c", "strokeWidth": 1, "opacity": 1}, "encoding": {}},
    {"data": {"name": "arrows"}, "transform": [{"filter": "datum.k == 'th'"}], "mark": {"type": "point", "shape": "M-1,-1L0,0L-1,1", "size": 30, "filled": false, "color": "#8c8c8c", "strokeWidth": 1, "opacity": 1}, "encoding": {}}
   ]},
  {"width": 23, "height": 144, "data": {"values": []}, "mark": "point"},
  {"width": 155, "height": 144, "data": {"name": "hist"}, "transform": [{"filter": "datum.p == 'b2'"}],
   "encoding": {
    "x": {"field": "x", "type": "quantitative", "scale": {"domain": [0, 173], "nice": false, "zero": false}, "axis": {"title": "Channels (FL3 Lin-DNA Content)", "titleFont": "Liberation Sans", "titleFontSize": 16, "titleFontWeight": "normal", "titleX": 155, "titleY": 59, "titleAlign": "center", "titleBaseline": "middle", "tickCount": 18, "labelExpr": "datum.value % 40 == 0 ? datum.label : ''"}},
    "y": {"field": "y", "type": "quantitative", "scale": {"domain": [0, 535], "nice": false}, "axis": {"title": null, "tickCount": 53, "labelExpr": "datum.value % 100 == 0 ? datum.label : ''", "tickSize": {"condition": {"test": "datum.value % 100 == 0", "value": 7}, "value": 4}}}
   },
   "layer": [
    {"transform": [{"filter": "datum.s == 'g1' || datum.s == 'g2'"}], "mark": {"type": "area", "fill": "#ff0000", "interpolate": "monotone", "stroke": "#b00000", "strokeWidth": 0.6}, "encoding": {"detail": {"field": "s"}}},
    {"transform": [{"filter": "datum.s == 'h'"}], "mark": {"type": "line", "color": "black", "strokeWidth": 1.3}, "encoding": {}}
   ]},
  {"width": 18, "height": 144, "data": {"values": []}, "mark": "point"},
  {"width": 174, "height": 144, "data": {"name": "hist"}, "transform": [{"filter": "datum.p == 'b3'"}],
   "encoding": {
    "x": {"field": "x", "type": "quantitative", "scale": {"domain": [0, 181], "nice": false, "zero": false}, "axis": {"title": null, "tickCount": 18, "labelExpr": "datum.value % 40 == 0 ? datum.label : ''"}},
    "y": {"field": "y", "type": "quantitative", "scale": {"domain": [0, 345], "nice": false}, "axis": {"title": null, "tickCount": 34, "labelExpr": "datum.value % 70 == 0 ? datum.label : ''", "tickSize": {"condition": {"test": "datum.value % 70 == 0", "value": 7}, "value": 4}}}
   },
   "layer": [
    {"transform": [{"filter": "datum.s == 'g1' || datum.s == 'g2'"}], "mark": {"type": "area", "fill": "#ff0000", "interpolate": "monotone", "stroke": "#b00000", "strokeWidth": 0.6}, "encoding": {"detail": {"field": "s"}}},
    {"transform": [{"filter": "datum.s == 'h'"}], "mark": {"type": "line", "color": "black", "strokeWidth": 1.3}, "encoding": {}}
   ]},
  {"width": 21, "height": 144, "data": {"values": []}, "mark": "point"},
  {"width": 172, "height": 144, "data": {"name": "hist"}, "transform": [{"filter": "datum.p == 'b4'"}],
   "encoding": {
    "x": {"field": "x", "type": "quantitative", "scale": {"domain": [0, 179], "nice": false, "zero": false}, "axis": {"title": null, "tickCount": 18, "labelExpr": "datum.value % 40 == 0 ? datum.label : ''"}},
    "y": {"field": "y", "type": "quantitative", "scale": {"domain": [0, 411], "nice": false}, "axis": {"title": null, "tickCount": 41, "labelExpr": "datum.value % 80 == 0 && datum.value < 400 ? datum.label : ''", "tickSize": {"condition": {"test": "datum.value % 80 == 0", "value": 7}, "value": 4}}}
   },
   "layer": [
    {"transform": [{"filter": "datum.s == 'g1' || datum.s == 'g2'"}], "mark": {"type": "area", "fill": "#ff0000", "interpolate": "monotone", "stroke": "#b00000", "strokeWidth": 0.6}, "encoding": {"detail": {"field": "s"}}},
    {"transform": [{"filter": "datum.s == 'h'"}], "mark": {"type": "line", "color": "black", "strokeWidth": 1.3}, "encoding": {}},
    {"transform": [{"filter": "datum.s == 'txt'"}], "mark": {"type": "text", "font": "Liberation Serif", "fontSize": 14, "fontWeight": "bold", "color": "black", "align": "center", "baseline": "middle"}, "encoding": {"text": {"field": "lab"}}}
   ]}
 ], "spacing": 0, "bounds": "flush"}
], "spacing": -10},
{"hconcat": [
  {"width": 56, "height": 172, "data": {"values": []}, "mark": "point"},
  {"width": 265, "height": 172,
   "layer": [
    {"data": {"name": "bars"}, "transform": [{"filter": "datum.g == 'U87'"}],
     "mark": {"type": "bar", "stroke": "black", "strokeWidth": 1},
     "encoding": {
      "x": {"field": "t", "type": "nominal", "sort": ["control","12h","24h","48h"], "scale": {"paddingInner": 0.476, "paddingOuter": 0.22}, "axis": {"title": null, "labelAngle": 0, "labelFont": "Liberation Serif", "labelFontWeight": "bold", "labelFontSize": 14, "tickBand": "extent", "tickSize": -4, "labelPadding": 14, "domainColor": "#777777", "tickColor": "#777777", "domainWidth": 1, "tickWidth": 1}},
      "y": {"field": "v", "type": "quantitative", "stack": "zero", "scale": {"domain": [0, 1.5], "nice": false}, "axis": {"values": [0, 0.5, 1, 1.5], "format": ".0%", "labelFont": "Liberation Serif", "labelFontWeight": "bold", "labelFontSize": 14, "labelAngle": 0, "labelAlign": "right", "labelBaseline": "middle", "tickSize": 4, "labelPadding": 8, "domainColor": "#777777", "tickColor": "#777777", "domainWidth": 1, "tickWidth": 1, "title": "Cell cycle distribution of  U87", "titleFont": "Liberation Serif", "titleFontWeight": "bold", "titleFontSize": 11.5, "titleX": -70, "titleY": 86, "titleAngle": 270, "titleAlign": "center", "titleBaseline": "middle"}},
      "fill": {"field": "phase", "type": "nominal", "scale": {"domain": ["S","G2/M","G0/G1"], "range": ["black","#b5b5b5","white"]}, "legend": {"orient": "none", "legendX": 215, "legendY": -25, "title": null, "strokeColor": "black", "fillColor": "white", "padding": 4, "symbolType": "square", "symbolSize": 36, "symbolStrokeColor": "black", "symbolStrokeWidth": 0.8, "labelFont": "Liberation Serif", "labelFontWeight": "bold", "labelFontSize": 9.5, "labelColor": "black", "rowPadding": 3, "labelOffset": 2}},
      "order": {"field": "phase", "type": "ordinal", "sort": "ascending"}
     }},
    {"data": {"name": "errs"}, "transform": [{"filter": "datum.g == 'U87'"}], "mark": {"type": "rule", "color": "#555555", "strokeWidth": 1},
     "encoding": {"x": {"field": "t", "type": "nominal", "sort": ["control","12h","24h","48h"]}, "y": {"field": "lo", "type": "quantitative", "scale": {"domain": [0, 1.5], "nice": false}}, "y2": {"field": "hi"}}},
    {"data": {"name": "errs"}, "transform": [{"filter": "datum.g == 'U87'"}], "mark": {"type": "tick", "color": "#555555", "thickness": 1, "size": 10},
     "encoding": {"x": {"field": "t", "type": "nominal", "sort": ["control","12h","24h","48h"]}, "y": {"field": "hi", "type": "quantitative", "scale": {"domain": [0, 1.5], "nice": false}}}},
    {"data": {"name": "errs"}, "transform": [{"filter": "datum.g == 'U87' && datum.k == 'mid'"}], "mark": {"type": "tick", "color": "#555555", "thickness": 1, "size": 10},
     "encoding": {"x": {"field": "t", "type": "nominal", "sort": ["control","12h","24h","48h"]}, "y": {"field": "lo", "type": "quantitative", "scale": {"domain": [0, 1.5], "nice": false}}}}
   ]},
  {"width": 108, "height": 172, "data": {"values": []}, "mark": "point"},
  {"width": 292, "height": 172,
   "layer": [
    {"data": {"name": "bars"}, "transform": [{"filter": "datum.g == 'U251'"}],
     "mark": {"type": "bar", "stroke": "black", "strokeWidth": 1},
     "encoding": {
      "x": {"field": "t", "type": "nominal", "sort": ["control","12h","24h","48h"], "scale": {"paddingInner": 0.495, "paddingOuter": 0.24}, "axis": {"title": null, "labelAngle": 0, "labelFont": "Liberation Serif", "labelFontWeight": "bold", "labelFontSize": 14, "tickBand": "extent", "tickSize": -4, "labelPadding": 14, "domainColor": "#777777", "tickColor": "#777777", "domainWidth": 1, "tickWidth": 1}},
      "y": {"field": "v", "type": "quantitative", "stack": "zero", "scale": {"domain": [0, 1.5], "nice": false}, "axis": {"values": [0, 0.5, 1, 1.5], "format": ".0%", "labelFont": "Liberation Serif", "labelFontWeight": "bold", "labelFontSize": 14, "labelAngle": 0, "labelAlign": "right", "labelBaseline": "middle", "tickSize": 4, "labelPadding": 8, "domainColor": "#777777", "tickColor": "#777777", "domainWidth": 1, "tickWidth": 1, "title": "Cell cycle distribution of U251", "titleFont": "Liberation Serif", "titleFontWeight": "bold", "titleFontSize": 11.5, "titleX": -70, "titleY": 86, "titleAngle": 270, "titleAlign": "center", "titleBaseline": "middle"}},
      "fill": {"field": "phase", "type": "nominal", "scale": {"domain": ["S","G2/M","G0/G1"], "range": ["black","#b5b5b5","white"]}, "legend": {"orient": "none", "legendX": 237, "legendY": -32, "title": null, "strokeColor": "black", "fillColor": "white", "padding": 4, "symbolType": "square", "symbolSize": 36, "symbolStrokeColor": "black", "symbolStrokeWidth": 0.8, "labelFont": "Liberation Serif", "labelFontWeight": "bold", "labelFontSize": 9.5, "labelColor": "black", "rowPadding": 3, "labelOffset": 2}},
      "order": {"field": "phase", "type": "ordinal", "sort": "ascending"}
     }},
    {"data": {"name": "errs"}, "transform": [{"filter": "datum.g == 'U251'"}], "mark": {"type": "rule", "color": "#666666", "strokeWidth": 1},
     "encoding": {"x": {"field": "t", "type": "nominal", "sort": ["control","12h","24h","48h"]}, "y": {"field": "lo", "type": "quantitative", "scale": {"domain": [0, 1.5], "nice": false}}, "y2": {"field": "hi"}}},
    {"data": {"name": "errs"}, "transform": [{"filter": "datum.g == 'U251'"}], "mark": {"type": "tick", "color": "#666666", "thickness": 1, "size": 10},
     "encoding": {"x": {"field": "t", "type": "nominal", "sort": ["control","12h","24h","48h"]}, "y": {"field": "hi", "type": "quantitative", "scale": {"domain": [0, 1.5], "nice": false}}}},
    {"data": {"name": "errs"}, "transform": [{"filter": "datum.g == 'U251' && datum.k == 'mid'"}], "mark": {"type": "tick", "color": "#666666", "thickness": 1, "size": 10},
     "encoding": {"x": {"field": "t", "type": "nominal", "sort": ["control","12h","24h","48h"]}, "y": {"field": "lo", "type": "quantitative", "scale": {"domain": [0, 1.5], "nice": false}}}}
   ]}
 ], "spacing": 0, "bounds": "flush",
 "resolve": {"scale": {"fill": "independent"}, "legend": {"fill": "independent"}},
 "title": {"text": "B", "anchor": "start", "font": "Liberation Serif", "fontSize": 19, "fontWeight": "bold", "color": "black", "offset": 18, "dx": -21}}
],
"spacing": 25,
"config": {
 "view": {"stroke": null},
 "axis": {"grid": false, "domainColor": "black", "tickColor": "black", "labelColor": "black", "titleColor": "black", "labelFont": "Liberation Sans Narrow, Arial Narrow, DejaVu Sans Condensed, sans-serif", "labelFontSize": 12, "labelFlush": false, "labelOverlap": false, "domainWidth": 1.5, "tickWidth": 1.2},
 "axisX": {"labelAngle": 0, "tickSize": 7, "labelPadding": 5},
 "axisY": {"labelAngle": 270, "labelAlign": "center", "labelBaseline": "bottom", "labelPadding": 2, "format": "d"}
}
}
